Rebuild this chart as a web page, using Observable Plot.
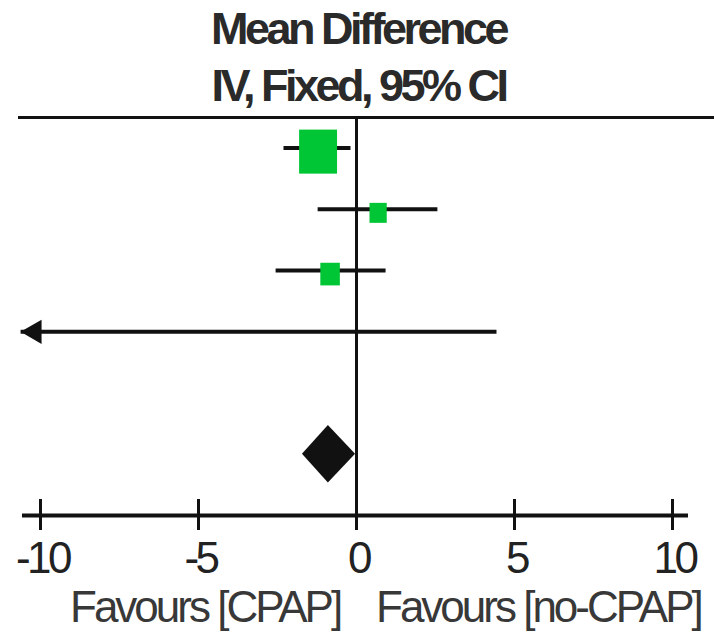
<!DOCTYPE html>
<html><head><meta charset="utf-8">
<script src="https://cdn.jsdelivr.net/npm/d3@7"></script>
<script src="https://cdn.jsdelivr.net/npm/@observablehq/plot@0.6"></script>
<style>
body{margin:0;background:#fff;width:714px;height:635px;overflow:hidden;font-family:"Liberation Sans",Arial,sans-serif}
.title{width:714px;text-align:center;font-weight:bold;font-size:45px;line-height:57px;letter-spacing:-3.5px;color:#2a2a2a;padding-left:3px;box-sizing:border-box;white-space:nowrap}
#favours{position:relative;height:51px;font-size:44px;line-height:46px;letter-spacing:-3px;color:#383838}
#favours span{position:absolute;top:0;white-space:nowrap}
</style></head><body>
<div class="title" id="t1"></div>
<div class="title" id="t2"></div>
<div id="chart"></div>
<div id="favours"><span id="fl" style="left:70px"></span><span id="fr" style="left:376px"></span></div>
<script>
// ---- data ----
const titleLines = ["Mean Difference", "IV, Fixed, 95% CI"];
const favoursLabels = ["Favours [CPAP]", "Favours [no-CPAP]"];
const studyRows = [0, 1, 2, 3];
const meanDiff = [-1.20, 0.70, -0.82, null];
const ciLow = [-2.31, -1.23, -2.56, -12];
const ciHigh = [-0.19, 2.56, 0.92, 4.43];
const weights = [68, 14, 18, 0];
const pooledRow = 5;
const pooledMean = -0.89, pooledLow = -1.71, pooledHigh = -0.03;
const xTicks = [-10, -5, 0, 5, 10];

document.getElementById("t1").textContent = titleLines[0];
document.getElementById("t2").textContent = titleLines[1];
document.getElementById("fl").textContent = favoursLabels[0];
document.getElementById("fr").textContent = favoursLabels[1];

const studies = studyRows.map((r, i) => ({row: r, mean: meanDiff[i], lo: ciLow[i], hi: ciHigh[i], w: weights[i]}));
const xMin = -10.63;           // left edge where off-scale CIs get an arrow
const yDomain = [-0.5, 6];
const axisRow = 6;
const kx = 0.0728, ky = 0.0436, diamondHalf = 0.47;
const diamond = [
  {y: pooledRow - diamondHalf, x1: pooledMean, x2: pooledMean},
  {y: pooledRow, x1: pooledLow, x2: pooledHigh},
  {y: pooledRow + diamondHalf, x1: pooledMean, x2: pooledMean}
];
const squares = studies.filter(d => d.mean != null && d.w > 0);
const offscale = studies.filter(d => d.lo < xMin);
const ink = "#111";

const chart = Plot.plot({
  width: 714, height: 470,
  marginTop: 3, marginBottom: 69, marginLeft: 40, marginRight: 42,
  x: {domain: [-10, 10], axis: null},
  y: {domain: yDomain, reverse: true, axis: null},
  style: {fontFamily: "Liberation Sans, Arial, sans-serif", background: "white", overflow: "visible", letterSpacing: "-3.5px"},
  marks: [
    Plot.ruleY([yDomain[0]], {insetLeft: -22, insetRight: -42, stroke: ink, strokeWidth: 3}),
    Plot.ruleX([0], {stroke: ink, strokeWidth: 3}),
    Plot.link(studies, {x1: d => Math.max(d.lo, xMin), x2: "hi", y1: "row", y2: "row", stroke: ink, strokeWidth: 4}),
    Plot.dot(offscale, {x: () => xMin, y: "row", symbol: "triangle", rotate: -90, r: 9, fill: ink, stroke: "none", dx: 14}),
    Plot.rect(squares, {
      x1: d => d.mean - kx * Math.sqrt(d.w), x2: d => d.mean + kx * Math.sqrt(d.w),
      y1: d => d.row - ky * Math.sqrt(d.w), y2: d => d.row + ky * Math.sqrt(d.w),
      dy: 4, fill: "#00c535"
    }),
    Plot.areaX(diamond, {y: "y", x1: "x1", x2: "x2", fill: ink}),
    Plot.ruleY([axisRow], {insetLeft: -18, insetRight: -16, stroke: ink, strokeWidth: 4}),
    Plot.ruleX(xTicks, {y1: () => axisRow, y2: () => axisRow, insetTop: -16, insetBottom: -15, stroke: ink, strokeWidth: 3}),
    Plot.text(xTicks, {x: d => d, frameAnchor: "bottom", lineAnchor: "bottom", dy: 57, dx: 2, text: d => String(d), fontSize: 44, fill: "#222"})
  ]
});
document.getElementById("chart").appendChild(chart);
</script>
</body></html>
